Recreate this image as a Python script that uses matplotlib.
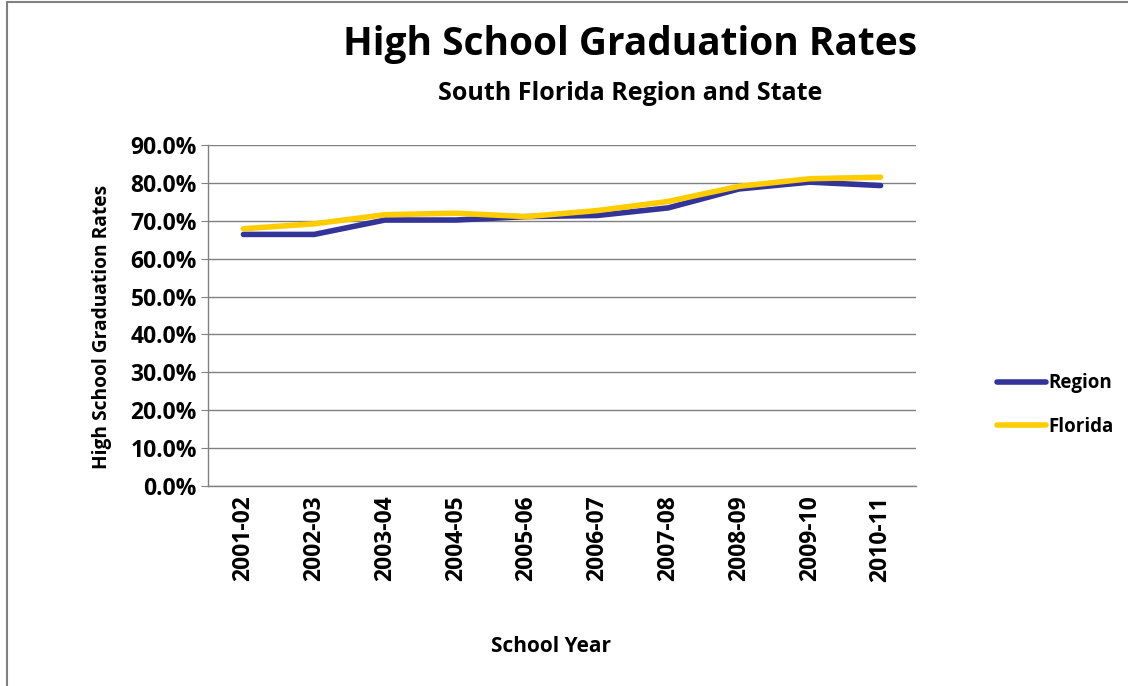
import matplotlib
matplotlib.use("Agg")
import matplotlib.pyplot as plt
from matplotlib.patches import Rectangle
from matplotlib.ticker import FuncFormatter, MultipleLocator

years = ["2001-02", "2002-03", "2003-04", "2004-05", "2005-06",
         "2006-07", "2007-08", "2008-09", "2009-10", "2010-11"]
region = [66.4, 66.4, 70.2, 70.2, 71.1, 71.4, 73.4, 78.4, 80.2, 79.3]
florida = [67.9, 69.2, 71.6, 72.0, 71.1, 72.7, 75.1, 79.1, 81.1, 81.5]

plt.rcParams['font.family'] = ['Open Sans', 'DejaVu Sans']
plt.rcParams['font.weight'] = 'bold'

W, H = 1128, 686
fig = plt.figure(figsize=(W / 100, H / 100), dpi=100)
fig.patch.set_facecolor('white')
fig.patches.append(Rectangle((7 / W, -0.1), 1.2, 1.1 - 2 / H, transform=fig.transFigure,
                             fill=False, edgecolor='#808080', linewidth=1.5))

ax = fig.add_axes([208 / W, 1 - 486 / H, (916 - 208) / W, (486 - 145) / H])
x = [i + 0.5 for i in range(len(years))]
ax.plot(x, region, color='#333399', linewidth=4, label='Region', solid_capstyle='round', zorder=3)
ax.plot(x, florida, color='#FFCC00', linewidth=4, label='Florida', solid_capstyle='round', zorder=4)

ax.set_xlim(0, len(years))
ax.set_ylim(0, 90)
ax.yaxis.set_major_locator(MultipleLocator(10))
ax.yaxis.set_major_formatter(FuncFormatter(lambda v, p: f"{v:.1f}%"))
ax.set_xticks(x)
ax.set_xticklabels(years, rotation=90, fontsize=16.5, fontweight='bold')
ax.tick_params(axis='x', length=0, pad=7)
ax.tick_params(axis='y', length=5, color='#808080', labelsize=16.5, pad=3)
for lab in ax.get_yticklabels():
    lab.set_fontweight('bold')
ax.grid(axis='y', color='#808080', linewidth=1)
ax.set_axisbelow(True)
for s in ['top', 'right']:
    ax.spines[s].set_visible(False)
for s in ['left', 'bottom']:
    ax.spines[s].set_color('#808080')
    ax.spines[s].set_linewidth(1)

fig.text(630 / W, 1 - 45 / H, "High School Graduation Rates", ha='center', va='center',
         fontsize=28, fontweight='bold')
fig.text(630 / W, 1 - 93 / H, "South Florida Region and State", ha='center', va='center',
         fontsize=18, fontweight='bold')
fig.text(102 / W, 1 - 327 / H, "High School Graduation Rates", ha='center', va='center',
         rotation=90, fontsize=13.8, fontweight='bold')
fig.text(551 / W, 1 - 647 / H, "School Year", ha='center', va='center',
         fontsize=15, fontweight='bold')

leg = fig.legend(loc='center left', bbox_to_anchor=(984 / W, 1 - 405 / H), frameon=False,
                 prop={'weight': 'bold', 'size': 13.5}, handlelength=2.6, handletextpad=0.15,
                 labelspacing=1.25, borderpad=0.2)

fig.savefig("out.png", dpi=100, facecolor='white')
